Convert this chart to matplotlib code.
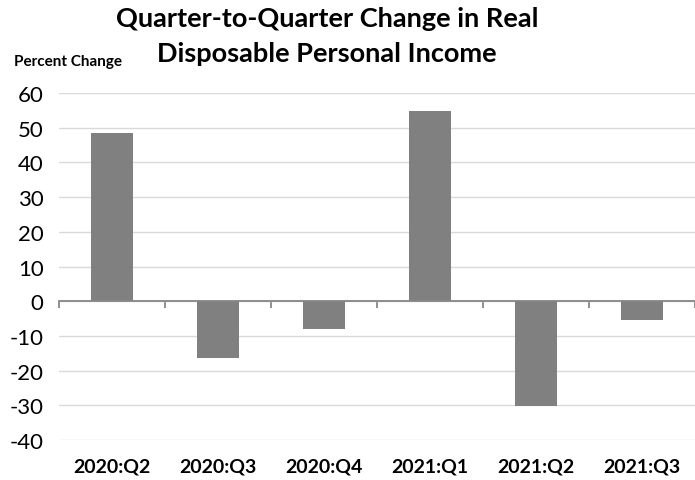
import matplotlib
matplotlib.use("Agg")
import matplotlib.pyplot as plt

quarters = ["2020:Q2", "2020:Q3", "2020:Q4", "2021:Q1", "2021:Q2", "2021:Q3"]
pct_change = [48.5, -16.5, -8.0, 54.8, -30.3, -5.3]
y_ticks = [-40, -30, -20, -10, 0, 10, 20, 30, 40, 50, 60]

plt.rcParams["font.family"] = ["Lato", "DejaVu Sans"]

fig = plt.figure(figsize=(6.95, 4.81), dpi=100)
ax = fig.add_axes([59 / 695, 1 - 441 / 481, 636 / 695, 347 / 481])

x = list(range(len(quarters)))
ax.bar(x, pct_change, width=0.4, color="#808080", zorder=3)

ax.set_xlim(-0.5, len(quarters) - 0.5)
ax.set_ylim(-40, 60)
ax.set_yticks(y_ticks)
ax.set_yticklabels([str(v) for v in y_ticks], fontsize=16)
ax.tick_params(axis="y", length=0, pad=11)
ax.yaxis.grid(True, color="#d9d9d9", lw=1, zorder=0)

for s in ["top", "right", "left"]:
    ax.spines[s].set_visible(False)
ax.spines["bottom"].set_position(("data", 0))
ax.spines["bottom"].set_color("#868686")
ax.spines["bottom"].set_linewidth(1.3)
ax.spines["bottom"].set_zorder(4)
ax.set_xticks([i - 0.5 for i in range(len(quarters) + 1)])
ax.set_xticklabels([])
ax.tick_params(axis="x", direction="out", length=5, width=1.3, color="#868686")

for i, q in enumerate(quarters):
    ax.text(i, -0.075, q, transform=ax.get_xaxis_transform(), ha="center",
            va="center", fontsize=14, fontweight="bold")

fig.text(327 / 695, 1 - 7 / 481, "Quarter-to-Quarter Change in Real\nDisposable Personal Income",
         ha="center", va="top", fontsize=19.5, fontweight="bold", linespacing=1.55)
fig.text(14 / 695, 1 - 62 / 481, "Percent Change", ha="left", va="center",
         fontsize=11, fontweight="bold")

fig.savefig("out.png", dpi=100)
